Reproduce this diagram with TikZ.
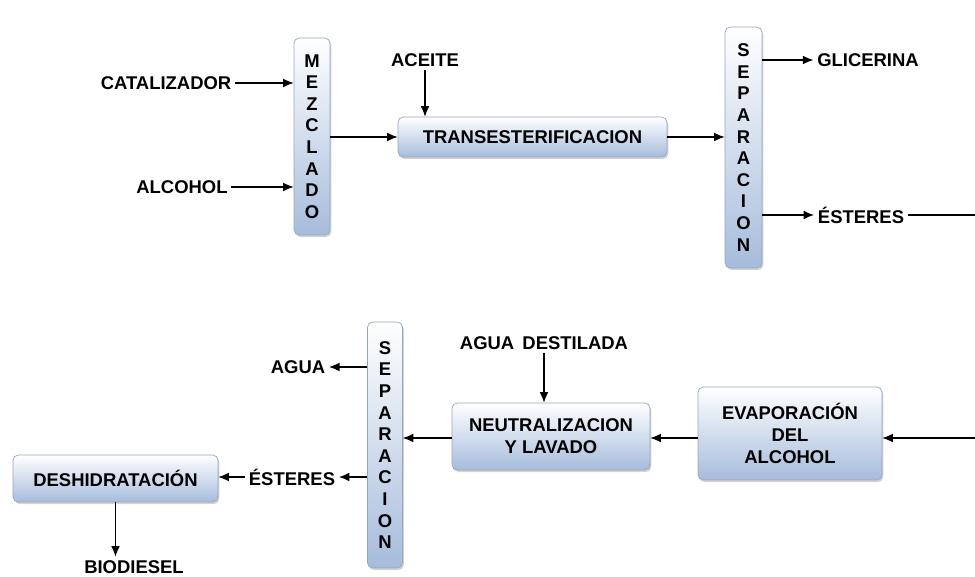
\documentclass[tikz,border=0pt]{standalone}
\usepackage{fontspec}
\setmainfont{Liberation Sans}
\usetikzlibrary{arrows.meta}
\usetikzlibrary{shadows}

\definecolor{cajaazul}{RGB}{166,188,220}
\definecolor{bordecaja}{RGB}{150,166,192}

\tikzset{
    caja/.style={draw=bordecaja, rounded corners=3pt, top color=white, bottom color=cajaazul,
        drop shadow={shadow xshift=0.8pt, shadow yshift=-1.2pt, opacity=0.35},
        font=\bfseries\fontsize{10.5}{12.5}\selectfont, align=center, inner sep=0pt},
    columna/.style={caja, font=\bfseries\fontsize{10.5}{12.3}\selectfont},
    etiqueta/.style={font=\bfseries\fontsize{10.5}{12}\selectfont, inner sep=2pt},
    flecha/.style={line width=0.7pt, -{Latex[length=6pt,width=5pt]}}
}

\begin{document}
\begin{tikzpicture}[x=0.02cm, y=-0.02cm]
            \useasboundingbox (0,0) rectangle (975,577);

            % boxes
            \node[columna, minimum width=0.72cm, minimum height=3.94cm] (mez) at (312,136.5)
                {M\\E\\Z\\C\\L\\A\\D\\O};
            \node[caja, minimum width=5.38cm, minimum height=0.8cm] (trans) at (532.5,137) {TRANSESTERIFICACION};
            \node[columna, minimum width=0.74cm, minimum height=4.82cm] (sep1) at (743.5,147.5)
                {S\\E\\P\\A\\R\\A\\C\\I\\O\\N};
            \node[caja, minimum width=3.68cm, minimum height=1.86cm] (evap) at (790,433.5) {EVAPORACIÓN\\DEL\\ALCOHOL};
            \node[caja, minimum width=3.96cm, minimum height=1.34cm] (neut) at (551,436.5) {NEUTRALIZACION\\Y LAVADO};
            \node[columna, minimum width=0.7cm, minimum height=4.92cm] (sep2) at (385,445)
                {S\\E\\P\\A\\R\\A\\C\\I\\O\\N};
            \node[caja, minimum width=4.1cm, minimum height=0.94cm] (desh) at (115.5,478.5) {DESHIDRATACIÓN};

            % labels
            \node[etiqueta] (cat) at (166,83) {CATALIZADOR};
            \node[etiqueta] (alc) at (182,187) {ALCOHOL};
            \node[etiqueta] (ace) at (425,60) {ACEITE};
            \node[etiqueta] (gli) at (868,60) {GLICERINA};
            \node[etiqueta] (est1) at (861,215) {ÉSTERES};
            \node[etiqueta] (agd) at (544,343) {AGUA\, DESTILADA};
            \node[etiqueta] (agua) at (298,367) {AGUA};
            \node[etiqueta] (est2) at (292,477) {ÉSTERES};
            \node[etiqueta] (bio) at (134,567) {BIODIESEL};

            \coordinate (borde1) at (975,215);
            \coordinate (borde2) at (975,438);

            % top row
            \draw[flecha] (cat) -- (cat -| mez.west);
            \draw[flecha] (alc) -- (alc -| mez.west);
            \draw[flecha] (mez.east |- trans.west) -- (trans.west);
            \draw[flecha] (ace.south) -- (ace.south |- trans.north);
            \draw[flecha] (trans.east) -- (trans.east -| sep1.west);
            \draw[flecha] (sep1.east |- gli.west) -- (gli.west);
            \draw[flecha] (sep1.east |- est1.west) -- (est1.west);
            \draw[line width=0.7pt] (est1.east) -- (borde1);

            % bottom row
            \draw[flecha] (borde2) -- (evap.east |- borde2);
            \draw[flecha] (evap.west |- borde2) -- (neut.east |- borde2);
            \draw[flecha] (neut.west |- borde2) -- (sep2.east |- borde2);
            \draw[flecha] (agd.south) -- (agd.south |- neut.north);
            \draw[flecha] (sep2.west |- agua.east) -- (agua.east);
            \draw[flecha] (sep2.west |- est2.east) -- (est2.east);
            \draw[flecha] (est2.west) -- (desh.east |- est2.west);
            \draw[flecha] (desh.south) -- (desh.south |- bio.north);
        \end{tikzpicture}
\end{document}
